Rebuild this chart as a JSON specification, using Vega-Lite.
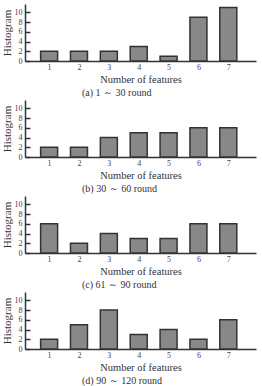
{
  "$schema": "https://vega.github.io/schema/vega-lite/v6.json",
  "padding": {"left": 1, "top": 4, "right": 1, "bottom": 2},
  "background": "white",
  "datasets": {
    "hist": [
      {"panel": "a", "features": 1, "count": 2},
      {"panel": "a", "features": 2, "count": 2},
      {"panel": "a", "features": 3, "count": 2},
      {"panel": "a", "features": 4, "count": 3},
      {"panel": "a", "features": 5, "count": 1},
      {"panel": "a", "features": 6, "count": 9},
      {"panel": "a", "features": 7, "count": 11},
      {"panel": "b", "features": 1, "count": 2},
      {"panel": "b", "features": 2, "count": 2},
      {"panel": "b", "features": 3, "count": 4},
      {"panel": "b", "features": 4, "count": 5},
      {"panel": "b", "features": 5, "count": 5},
      {"panel": "b", "features": 6, "count": 6},
      {"panel": "b", "features": 7, "count": 6},
      {"panel": "c", "features": 1, "count": 6},
      {"panel": "c", "features": 2, "count": 2},
      {"panel": "c", "features": 3, "count": 4},
      {"panel": "c", "features": 4, "count": 3},
      {"panel": "c", "features": 5, "count": 3},
      {"panel": "c", "features": 6, "count": 6},
      {"panel": "c", "features": 7, "count": 6},
      {"panel": "d", "features": 1, "count": 2},
      {"panel": "d", "features": 2, "count": 5},
      {"panel": "d", "features": 3, "count": 8},
      {"panel": "d", "features": 4, "count": 3},
      {"panel": "d", "features": 5, "count": 4},
      {"panel": "d", "features": 6, "count": 2},
      {"panel": "d", "features": 7, "count": 6}
    ]
  },
  "config": {
    "view": {"stroke": null},
    "font": "Liberation Serif, serif",
    "axis": {
      "domainColor": "#333333",
      "domainWidth": 1.5,
      "grid": false,
      "labelFont": "Liberation Serif, serif",
      "titleFont": "Liberation Serif, serif",
      "labelColor": "#444444",
      "titleColor": "#333333",
      "titleFontWeight": "normal",
      "labelFontSize": 8,
      "titleFontSize": 10.5
    },
    "title": {"font": "Liberation Serif, serif", "fontSize": 10, "fontWeight": "normal", "color": "#333333"}
  },
  "vconcat": [
    {
      "data": {"name": "hist"},
      "transform": [{"filter": "datum.panel === 'a'"}],
      "width": 231,
      "height": 57,
      "title": {"text": "(a) 1 ～ 30 round", "orient": "bottom", "anchor": "start", "dx": 81, "offset": 3},
      "mark": {"type": "bar", "size": 17, "fill": "#888888", "stroke": "#333333", "strokeWidth": 1.5},
      "encoding": {
        "x": {"field": "features", "type": "quantitative", "scale": {"domain": [0.36, 7.76], "nice": false, "zero": false},
              "axis": {"values": [1, 2, 3, 4, 5, 6, 7], "title": "Number of features", "ticks": false, "labelPadding": 2, "titlePadding": 3}},
        "y": {"field": "count", "type": "quantitative", "scale": {"domain": [0, 11.7], "nice": false},
              "axis": {"values": [0, 2, 4, 6, 8, 10], "title": "Histogram", "titleFontSize": 11, "tickSize": -5, "tickColor": "#333333", "tickWidth": 1.5, "labelPadding": 8, "titlePadding": 2}}
      }
    },
    {
      "data": {"name": "hist"},
      "transform": [{"filter": "datum.panel === 'b'"}],
      "width": 231,
      "height": 57,
      "title": {"text": "(b) 30 ～ 60 round", "orient": "bottom", "anchor": "start", "dx": 81, "offset": 3},
      "mark": {"type": "bar", "size": 17, "fill": "#888888", "stroke": "#333333", "strokeWidth": 1.5},
      "encoding": {
        "x": {"field": "features", "type": "quantitative", "scale": {"domain": [0.36, 7.76], "nice": false, "zero": false},
              "axis": {"values": [1, 2, 3, 4, 5, 6, 7], "title": "Number of features", "ticks": false, "labelPadding": 2, "titlePadding": 3}},
        "y": {"field": "count", "type": "quantitative", "scale": {"domain": [0, 11.7], "nice": false},
              "axis": {"values": [0, 2, 4, 6, 8, 10], "title": "Histogram", "titleFontSize": 11, "tickSize": -5, "tickColor": "#333333", "tickWidth": 1.5, "labelPadding": 8, "titlePadding": 2}}
      }
    },
    {
      "data": {"name": "hist"},
      "transform": [{"filter": "datum.panel === 'c'"}],
      "width": 231,
      "height": 57,
      "title": {"text": "(c) 61 ～ 90  round", "orient": "bottom", "anchor": "start", "dx": 81, "offset": 3},
      "mark": {"type": "bar", "size": 17, "fill": "#888888", "stroke": "#333333", "strokeWidth": 1.5},
      "encoding": {
        "x": {"field": "features", "type": "quantitative", "scale": {"domain": [0.36, 7.76], "nice": false, "zero": false},
              "axis": {"values": [1, 2, 3, 4, 5, 6, 7], "title": "Number of features", "ticks": false, "labelPadding": 2, "titlePadding": 3}},
        "y": {"field": "count", "type": "quantitative", "scale": {"domain": [0, 11.7], "nice": false},
              "axis": {"values": [0, 2, 4, 6, 8, 10], "title": "Histogram", "titleFontSize": 11, "tickSize": -5, "tickColor": "#333333", "tickWidth": 1.5, "labelPadding": 8, "titlePadding": 2}}
      }
    },
    {
      "data": {"name": "hist"},
      "transform": [{"filter": "datum.panel === 'd'"}],
      "width": 231,
      "height": 57,
      "title": {"text": "(d) 90 ～ 120  round", "orient": "bottom", "anchor": "start", "dx": 81, "offset": 3},
      "mark": {"type": "bar", "size": 17, "fill": "#888888", "stroke": "#333333", "strokeWidth": 1.5},
      "encoding": {
        "x": {"field": "features", "type": "quantitative", "scale": {"domain": [0.36, 7.76], "nice": false, "zero": false},
              "axis": {"values": [1, 2, 3, 4, 5, 6, 7], "title": "Number of features", "ticks": false, "labelPadding": 2, "titlePadding": 3}},
        "y": {"field": "count", "type": "quantitative", "scale": {"domain": [0, 11.7], "nice": false},
              "axis": {"values": [0, 2, 4, 6, 8, 10], "title": "Histogram", "titleFontSize": 11, "tickSize": -5, "tickColor": "#333333", "tickWidth": 1.5, "labelPadding": 8, "titlePadding": 2}}
      }
    }
  ],
  "spacing": 2
}
